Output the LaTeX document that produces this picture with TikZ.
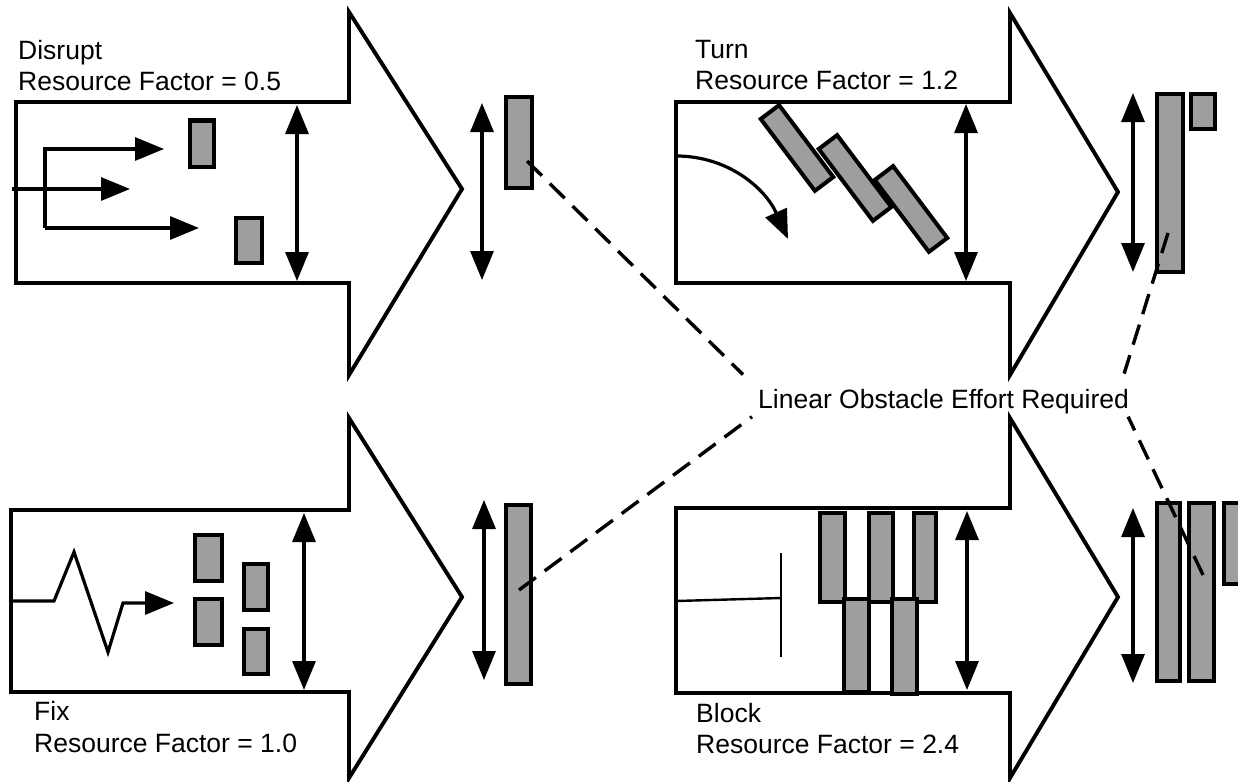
\documentclass[tikz,border=0pt]{standalone}
\usepackage{fontspec}
\setmainfont{Liberation Sans}
\usetikzlibrary{arrows.meta}

\begin{document}
\begin{tikzpicture}[x=1pt,y=-1pt,
    >={Triangle[length=29pt,width=23pt]},
    outline/.style={line width=3.9pt},
    flow/.style={line width=3.2pt,->},
    span/.style={line width=3.2pt,<->},
    obst/.style={draw,line width=4pt,fill=black!38},
    dashline/.style={line width=3.4pt,dash pattern=on 21pt off 11pt},
    caption/.style={font=\fontsize{26.5}{32}\selectfont,inner sep=0pt,anchor=base west}]
    \useasboundingbox (0,0) rectangle (1238,781);

    % Draw the four big arrows
    \draw[outline] (16,102) -- (349,102) -- (349,12) -- (462,189) -- (349,375) -- (349,283) -- (16,283) -- cycle;
    \draw[outline] (676,102) -- (1010,102) -- (1010,13) -- (1118,192) -- (1010,375) -- (1010,283) -- (676,283) -- cycle;
    \draw[outline] (11,510) -- (349,510) -- (349,418) -- (462,597) -- (349,778) -- (349,692) -- (11,692) -- cycle;
    \draw[outline] (676,508) -- (1010,508) -- (1010,418) -- (1118,597) -- (1010,778) -- (1010,693) -- (676,693) -- cycle;

    % Label the four actions
    \node[caption] (disrupt) at (18,60) {Disrupt};
    \node[caption] (disrupt-rf) at (18,91) {Resource Factor = 0.5};
    \node[caption] (turn) at (695,59) {Turn};
    \node[caption] (turn-rf) at (695,90) {Resource Factor = 1.2};
    \node[caption] (fix) at (34,720) {Fix};
    \node[caption] (fix-rf) at (34,752) {Resource Factor = 1.0};
    \node[caption] (block) at (696,722) {Block};
    \node[caption] (block-rf) at (696,753) {Resource Factor = 2.4};

    % Draw width arrows inside and beside the big arrows
    \draw[span] (297,105) -- (297,281);
    \draw[span] (482,103) -- (482,280);
    \draw[span] (966,104) -- (966,281);
    \draw[span] (1133,93) -- (1133,272);
    \draw[span] (304,513) -- (304,690);
    \draw[span] (484,500) -- (484,680);
    \draw[span] (967,511) -- (967,690);
    \draw[span] (1133,508) -- (1133,683);

    % Disrupt: split paths and obstacles
    \draw[flow] (45,228) -- (45,149) -- (164,149);
    \draw[flow] (12,189) -- (130,189);
    \draw[flow] (45,228) -- (199,228);
    \draw[obst] (189.5,120.5) rectangle (213.5,166.5);
    \draw[obst] (235.5,217.5) rectangle (261.5,262.5);
    \draw[obst] (505.5,97.5) rectangle (531.5,187.5);

    % Turn: curved path and slanted obstacles
    \draw[flow] (676,156) .. controls (728,156) and (765,188) .. (788,239);
    \node[obst,minimum width=90pt,minimum height=23pt,rotate=-53] (turn-a) at (797,148) {};
    \node[obst,minimum width=90pt,minimum height=23pt,rotate=-53] (turn-b) at (855,178) {};
    \node[obst,minimum width=90pt,minimum height=23pt,rotate=-53] (turn-c) at (911,209) {};
    \draw[obst] (1156.5,94.5) rectangle (1182.5,271.5);
    \draw[obst] (1190.5,94.5) rectangle (1214.5,128.5);

    % Fix: zigzag path and obstacles
    \draw[flow] (11,601) -- (54,601) -- (74,552) -- (108,652) -- (123,603) -- (174,603);
    \draw[obst] (194.5,534.5) rectangle (221.5,580.5);
    \draw[obst] (194.5,598.5) rectangle (221.5,644.5);
    \draw[obst] (243.5,563.5) rectangle (267.5,609.5);
    \draw[obst] (243.5,628.5) rectangle (267.5,673.5);
    \draw[obst] (505.5,504.5) rectangle (530.5,683.5);

    % Block: stopped path and staggered obstacles
    \draw[line width=2.4pt] (676,601) -- (781,598);
    \draw[line width=2.4pt] (781,553) -- (781,657);
    \draw[obst] (819.5,512.5) rectangle (844.5,601.5);
    \draw[obst] (868.5,512.5) rectangle (892.5,601.5);
    \draw[obst] (913.5,512.5) rectangle (935.5,601.5);
    \draw[obst] (843.5,598.5) rectangle (868.5,691.5);
    \draw[obst] (891.5,598.5) rectangle (916.5,693.5);
    \draw[obst] (1156.5,502.5) rectangle (1179.5,680.5);
    \draw[obst] (1188.5,502.5) rectangle (1213.5,680.5);
    \draw[obst] (1223.5,502.5) rectangle (1252,583.5);

    % Central label and dashed leaders
    \node[caption] (effort) at (758,408) {Linear Obstacle Effort Required};
    \coordinate (hit-disrupt) at (527,161);
    \coordinate (hit-fix) at (519,590);
    \coordinate (hit-turn) at (1168,233);
    \coordinate (hit-block) at (1203,575);
    \draw[dashline] (hit-disrupt) -- ([xshift=-15pt,yshift=14pt]effort.north west);
    \draw[dashline] (hit-fix) -- ([xshift=-6pt,yshift=-3pt]effort.south west);
    \draw[dashline] (hit-turn) -- ([xshift=-5pt,yshift=15pt]effort.north east);
    \draw[dashline] (hit-block) -- ([xshift=-1pt,yshift=-3pt]effort.south east);
\end{tikzpicture}
\end{document}
